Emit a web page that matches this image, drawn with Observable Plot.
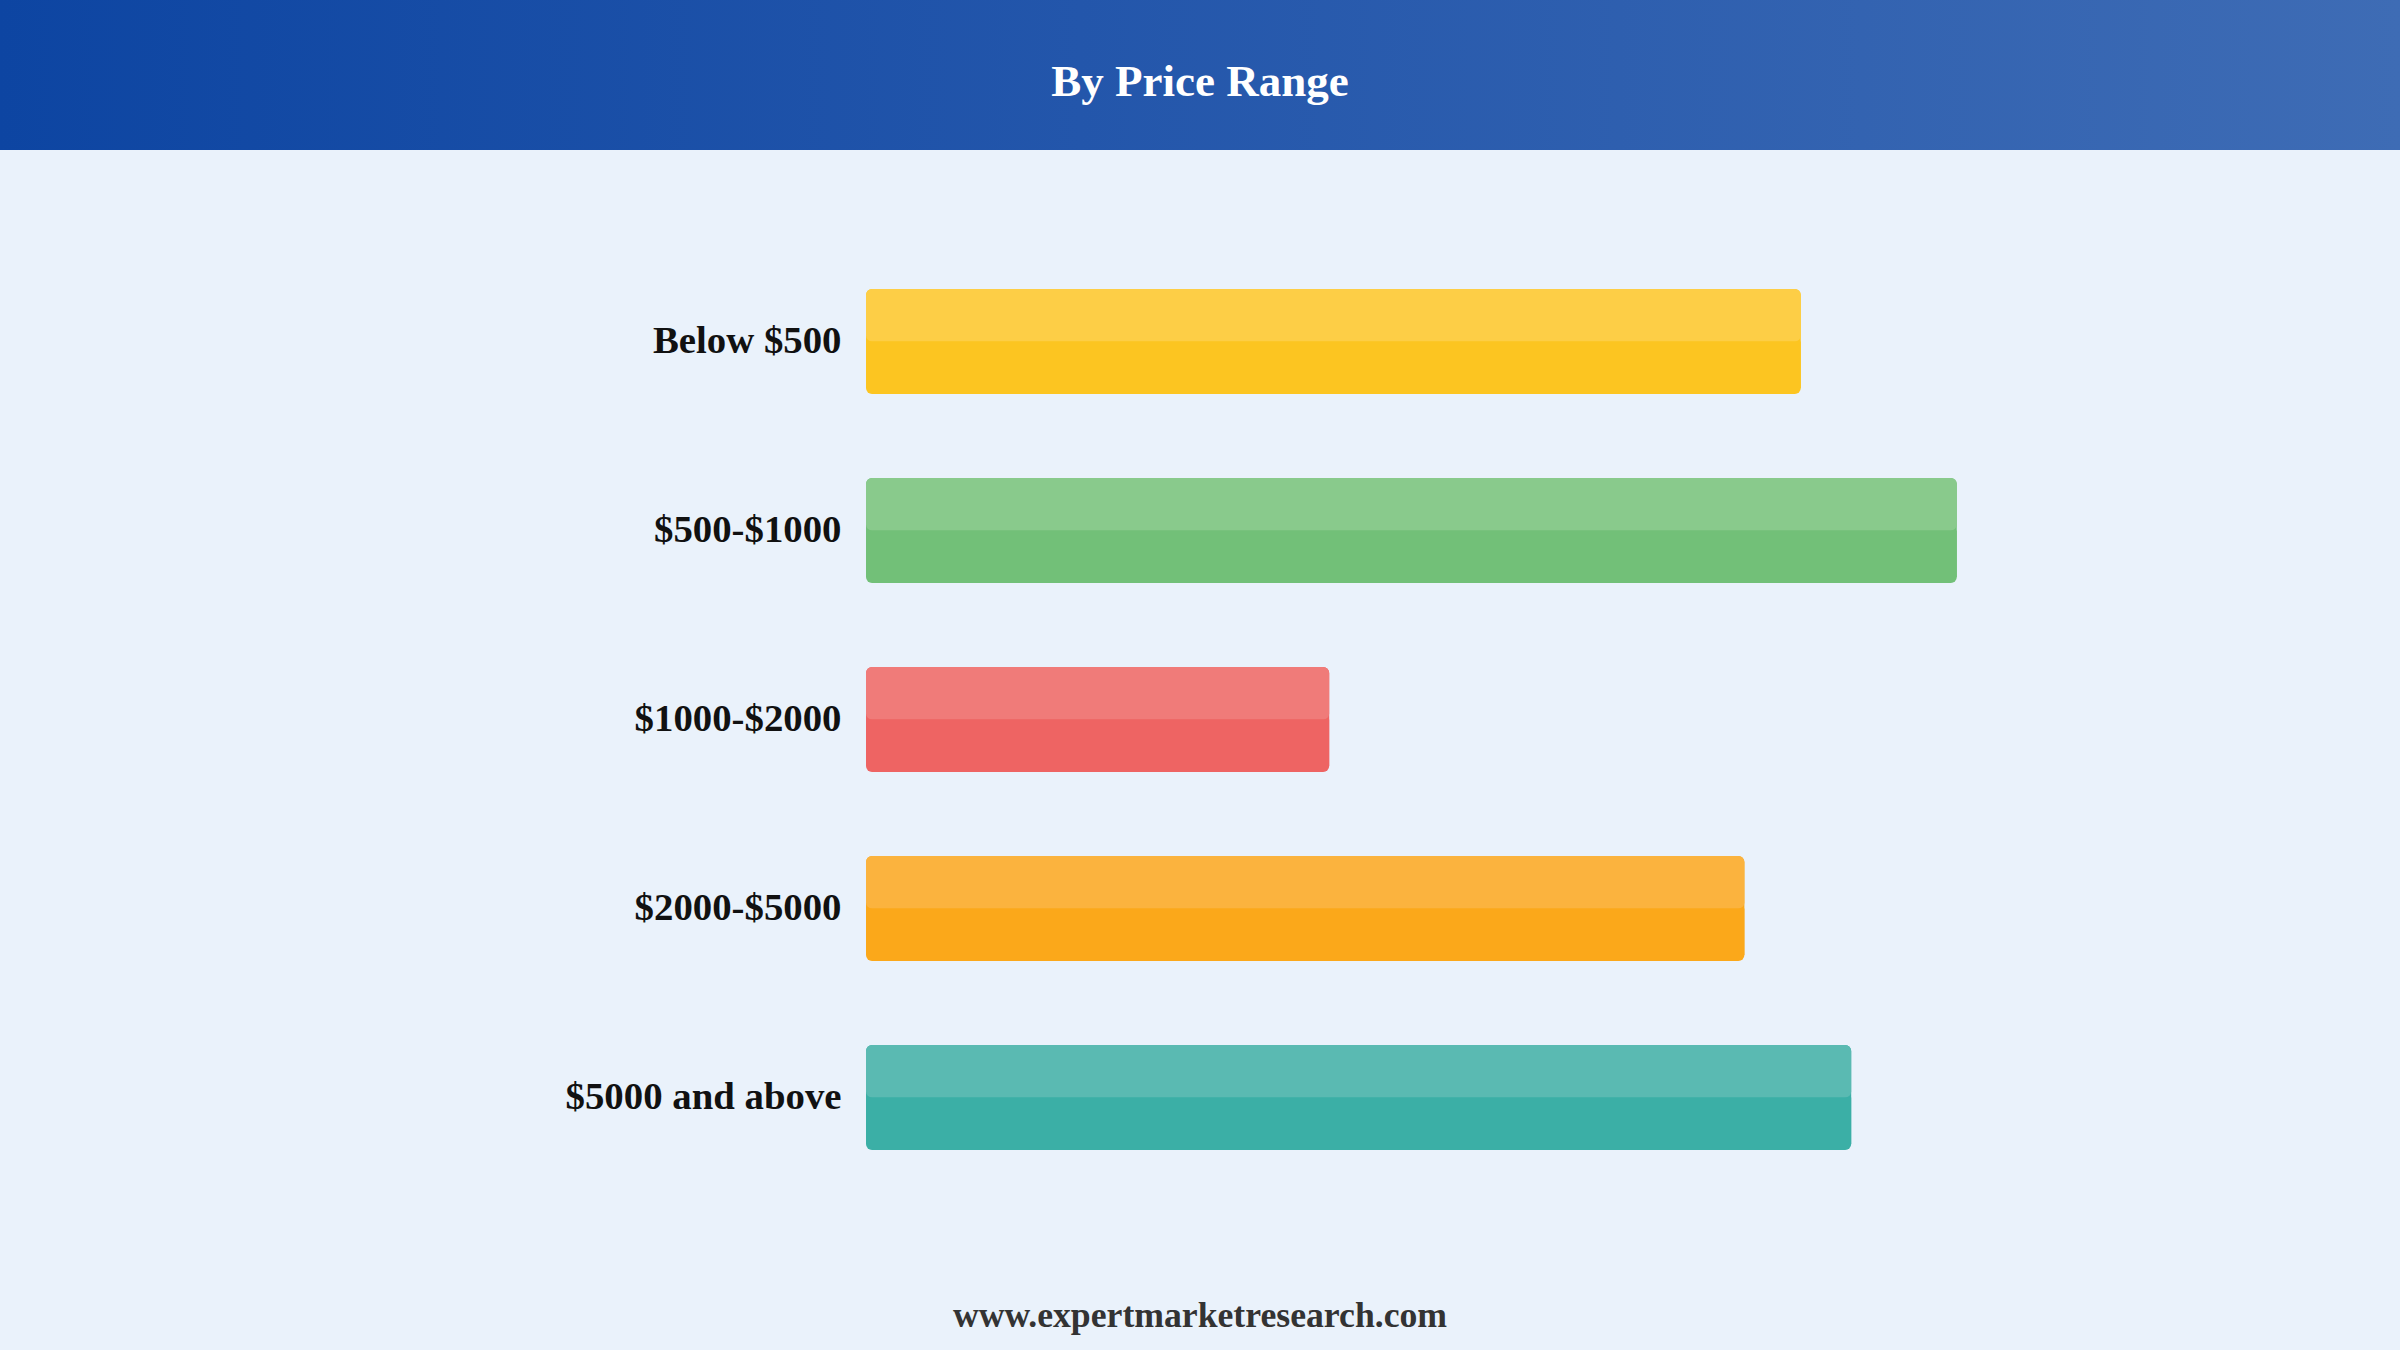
<!DOCTYPE html>
<html>
<head>
<meta charset="utf-8">
<script src="https://cdn.jsdelivr.net/npm/d3@7"></script>
<script src="https://cdn.jsdelivr.net/npm/@observablehq/plot@0.6"></script>
<style>
  html, body { margin: 0; padding: 0; background: #EAF2FB; }
  body { width: 2400px; height: 1350px; overflow: hidden; font-family: "Liberation Serif", "Times New Roman", serif; }
  #header {
    height: 150px; width: 2400px;
    background: linear-gradient(to right, #0D45A2, #2356AB 45%, #3E6CB5);
    color: #fff; font-weight: bold; font-size: 45px;
    text-align: center; line-height: 150px; box-sizing: border-box; padding-top: 6px; overflow: hidden;
  }
  #chart { height: 1120px; }
  #footer {
    height: 80px; text-align: center; font-weight: bold; font-size: 35.7px; color: #333;
    line-height: 80px; padding-top: 5px; box-sizing: border-box;
  }
</style>
</head>
<body>
<div id="header">By Price Range</div>
<div id="chart"></div>
<div id="footer">www.expertmarketresearch.com</div>
<script>
const categories = ["Below $500", "$500-$1000", "$1000-$2000", "$2000-$5000", "$5000 and above"];
const values = [77.9, 90.9, 38.6, 73.2, 82.1];
const baseColors = ["#FCC521", "#72C078", "#EE6463", "#FBA81A", "#3BAFA6"];
const topColors = ["#FDCE46", "#89CA8C", "#F07B79", "#FBB33E", "#5ABAB2"];

const data = categories.map((c, i) => ({category: c, value: values[i], base: baseColors[i], top: topColors[i]}));

const chart = Plot.plot({
  width: 2400,
  height: 1120,
  marginLeft: 866,
  marginRight: 334,
  marginTop: 0,
  marginBottom: 0,
  style: {background: "transparent", overflow: "visible"},
  x: {domain: [0, 100], axis: null},
  y: {domain: categories, range: [96, 1042], paddingInner: 0.445, paddingOuter: 0.2225, label: null},
  marks: [
    Plot.barX(data, {y: "category", x: "value", fill: "base", rx: 6}),
    Plot.barX(data, {y: "category", x: "value", fill: "top", rx: 6, insetBottom: 52.5}),
    Plot.barX(data, {y: "category", x: "value", fill: "base", insetTop: 52.5, insetBottom: 6}),
    Plot.axisY({
      tickSize: 0,
      tickPadding: 25,
      fontSize: 38.8,
      fontWeight: "bold",
      fontFamily: "Liberation Serif",
      fill: "#111",
      dy: -1,
      label: null
    })
  ]
});
document.getElementById("chart").appendChild(chart);
</script>
</body>
</html>
